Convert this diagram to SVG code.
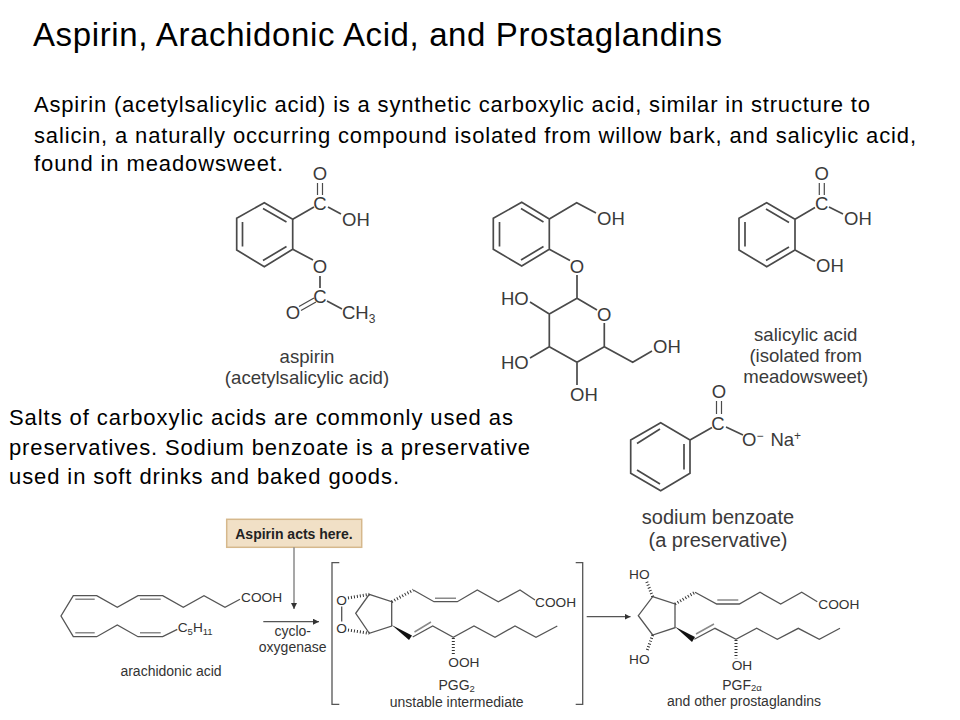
<svg xmlns="http://www.w3.org/2000/svg" width="960" height="720" viewBox="0 0 960 720">
<style>
text{font-family:"Liberation Sans",Arial,sans-serif}
.t{fill:#000}
.title{font-size:33px}
.body{font-size:22px}
.l{font-size:18.5px;fill:#3a3a3a}
.c{font-size:18.6px;fill:#3a3a3a;text-anchor:middle}
.big{font-size:20px}
.s{font-size:13.7px;fill:#333}
.sc{font-size:14px;fill:#333;text-anchor:middle}
.sub{font-size:9.5px}
.sub2{font-size:12px}
.b{fill:none;stroke:#4a4a4a;stroke-width:1.7;stroke-linejoin:miter}
.n{fill:none;stroke:#4a4a4a;stroke-width:1.2}
.h{fill:none;stroke:#333;stroke-width:3;stroke-dasharray:1 2}
.w{fill:#111;stroke:none}
.g{fill:none;stroke:#8a8a8a;stroke-width:1.5}
.k{fill:none;stroke:#555;stroke-width:1.3}
</style>
<defs>
<marker id="ah" markerWidth="8" markerHeight="8" refX="6" refY="3" orient="auto" markerUnits="userSpaceOnUse"><path d="M0 0L6 3L0 6Z" fill="#333"/></marker>
</defs>
<rect width="960" height="720" fill="#fff"/>
<text class="t title" x="33" y="46" textLength="689">Aspirin, Arachidonic Acid, and Prostaglandins</text>
<g id="intro">
<text class="t body" x="34" y="112" textLength="836">Aspirin (acetylsalicylic acid) is a synthetic carboxylic acid, similar in structure to</text>
<text class="t body" x="34" y="143" textLength="882">salicin, a naturally occurring compound isolated from willow bark, and salicylic acid,</text>
<text class="t body" x="34" y="171" textLength="249">found in meadowsweet.</text>
</g>
<g id="salts">
<text class="t body" x="9" y="425" textLength="504">Salts of carboxylic acids are commonly used as</text>
<text class="t body" x="9" y="455" textLength="521">preservatives. Sodium benzoate is a preservative</text>
<text class="t body" x="9" y="484" textLength="390">used in soft drinks and baked goods.</text>
</g>
<g id="aspirin">
<path class="b" d="M264.3 202.7L292.7 219.3V249.3L264.3 266.7L236.7 250V218.3ZM263 208.5L286.5 222M242.5 222V246.5M263 260.5L286.5 246.5"/>
<path class="b" d="M292.7 219.3L314 207M328 207L341 214M292.7 249.3L313 260M320 276V288M327 301L342 309"/>
<path class="n" d="M317.5 183V195M322.5 183V195M299 306.5L314 298M301 310.5L316 302"/>
<text class="l" x="320" y="180" text-anchor="middle">O</text>
<text class="l" x="320" y="210" text-anchor="middle">C</text>
<text class="l" x="342" y="226">OH</text>
<text class="l" x="320" y="273" text-anchor="middle">O</text>
<text class="l" x="320" y="303" text-anchor="middle">C</text>
<text class="l" x="293" y="319" text-anchor="middle">O</text>
<text class="l" x="342" y="319">CH<tspan class="sub2" dy="4">3</tspan></text>
<text class="c" x="307" y="363">aspirin</text>
<text class="c" x="307" y="384">(acetylsalicylic acid)</text>
</g>
<g id="salicin">
<path class="b" d="M521.7 202.3L549.3 219V249.3L521.7 266L493.3 249.3V218.3ZM521 208.5L543.5 222M499.5 222V246.5M521 260L543.5 246.5"/>
<path class="b" d="M549.3 219L576.7 202.7L596 213M549.3 249.3L570 260.5M577 275V298.3L597 310M604.3 323V346.7L577 362.3L549.3 346.7V314L577 298.3M604.3 346.7L632.7 362.3L652 351M549.3 314L530 302M549.3 346.7L530 358M577 362.3V385"/>
<text class="l" x="597" y="225">OH</text>
<text class="l" x="577" y="273" text-anchor="middle">O</text>
<text class="l" x="604.3" y="320.5" text-anchor="middle">O</text>
<text class="l" x="501" y="305">HO</text>
<text class="l" x="501" y="369">HO</text>
<text class="l" x="653" y="353">OH</text>
<text class="l" x="570" y="401">OH</text>
</g>
<g id="salicylic-acid">
<path class="b" d="M766.7 202.7L795 219.3V250L766.7 266.7L739 250V218.3ZM766 209L789 222.5M745 222V246.5M766 260.5L789 247"/>
<path class="b" d="M795 219.3L815 207.5M829 207L843 214M795 250L815 261"/>
<path class="n" d="M819.3 183V195M824.3 183V195"/>
<text class="l" x="821.7" y="180" text-anchor="middle">O</text>
<text class="l" x="821.7" y="210" text-anchor="middle">C</text>
<text class="l" x="844" y="225">OH</text>
<text class="l" x="816" y="272">OH</text>
<text class="c" x="805.7" y="341">salicylic acid</text>
<text class="c" x="805.7" y="362">(isolated from</text>
<text class="c" x="805.7" y="383">meadowsweet)</text>
</g>
<g id="sodium-benzoate">
<path class="b" d="M660.7 422.7L690 440V473.3L660.7 490.7L630.7 473.3V440ZM684 444V469.5M637 470L660 484M637 443.5L660 429"/>
<path class="b" d="M690 440L712 427.5M726 427L743 435"/>
<path class="n" d="M716.5 401V414M721.5 401V414"/>
<text class="l" x="719" y="398" text-anchor="middle">O</text>
<text class="l" x="718" y="430" text-anchor="middle">C</text>
<text class="l" x="742" y="446">O<tspan class="sub2" dy="-6">−</tspan><tspan dy="6" dx="7">Na</tspan><tspan class="sub2" dy="-6">+</tspan></text>
<text class="c big" x="718" y="524">sodium benzoate</text>
<text class="c big" x="718" y="547">(a preservative)</text>
</g>
<g id="aspirin-box">
<rect x="226.7" y="519.3" width="135" height="28" fill="#f1e0c6" stroke="#d6b88c" stroke-width="1.5"/>
<text x="294" y="539" text-anchor="middle" font-size="14" font-weight="bold" fill="#222">Aspirin acts here.</text>
</g>
<g id="arachidonic-acid">
<path class="k" d="M240 599.3L225 607.3L204 595.7L183.3 607.3L162.7 595.7H138L117.3 607.3L96.7 595.7H73.3L61 616L73.3 636.7H96.7L117.3 625L138 636.7H162.7L177.3 629.3"/>
<path class="g" d="M75.3 599.3H94.7M140 599.3H160.7M75.3 632.7H94.7M140 632.7H160.7"/>
<text class="s" x="241" y="602">COOH</text>
<text class="s" x="177.7" y="632">C<tspan class="sub" dy="3">5</tspan><tspan dy="-3">H</tspan><tspan class="sub" dy="3">11</tspan></text>
<text class="sc" x="171" y="676">arachidonic acid</text>
</g>
<g id="cyclooxygenase">
<text class="sc" x="292.7" y="636">cyclo-</text>
<text class="sc" x="292.7" y="652">oxygenase</text>
</g>
<g id="pgg2">
<path class="k" d="M339.3 562.7H332V704.3H339.3M575.7 562.7H582.7V704.3H575.7"/>
<path class="k" d="M369.3 594.3L391.7 601.7V626L369.3 633.3L355.7 613.3ZM341.7 606.5V621.5"/>
<path class="h" d="M348 598L369.3 594.3M348 630L369.3 633.3M391.7 601.7L413.3 590M453.3 638V656"/>
<path class="w" d="M391.7 625L412 635.5L409 640Z"/>
<path class="k" d="M413.3 590L434 601.7H457.3L477.3 590L498.3 601.7L520 590L535 600M412.7 637L432.7 626L453.3 637.3L474 626L495 637.3L515 626L536 637.3L557.3 626"/>
<path class="g" d="M435 598.3H456M414.5 632L431 622"/>
<text class="s" x="341.7" y="605" text-anchor="middle">O</text>
<text class="s" x="341.7" y="633" text-anchor="middle">O</text>
<text class="s" x="535" y="607">COOH</text>
<text class="s" x="448.3" y="667">OOH</text>
<text class="sc" x="456.7" y="690">PGG<tspan class="sub" dy="2">2</tspan></text>
<text class="sc" x="456.7" y="707">unstable intermediate</text>
</g>
<g id="pgf2a">
<path class="k" d="M652.7 596.7L675 604V627.7L652.7 635L638.3 615.7Z"/>
<path class="h" d="M652.7 596.7L646.7 581.7M652.7 635L646.7 651.7M675 604L695 592.3M736 640V658.3"/>
<path class="w" d="M675 626.7L695 637L692 642Z"/>
<path class="k" d="M695 592.3L716.7 604H739.3L760 592.3L780.7 604L801.7 592.3L817.3 601.7M694.3 639.3L715 628.3L736 639.3L756.7 628.3L777.3 639.3L798.3 628.3L819.3 639.3L840 628.3"/>
<path class="g" d="M717.3 600H738.3M696 634L714 624"/>
<text class="s" x="629" y="578.5">HO</text>
<text class="s" x="629" y="663.5">HO</text>
<text class="s" x="818.3" y="608.5">COOH</text>
<text class="s" x="731.7" y="669.5">OH</text>
<text class="sc" x="742" y="690">PGF<tspan class="sub" dy="1">2α</tspan></text>
<text class="sc" x="744" y="706">and other prostaglandins</text>
</g>
<g id="connectors">
<path class="g" d="M294 547.3V609" marker-end="url(#ah)"/>
<path class="k" d="M263.3 621.7H319" marker-end="url(#ah)"/>
<path class="k" d="M586.7 616.7H630.5" marker-end="url(#ah)"/>
</g>
</svg>
